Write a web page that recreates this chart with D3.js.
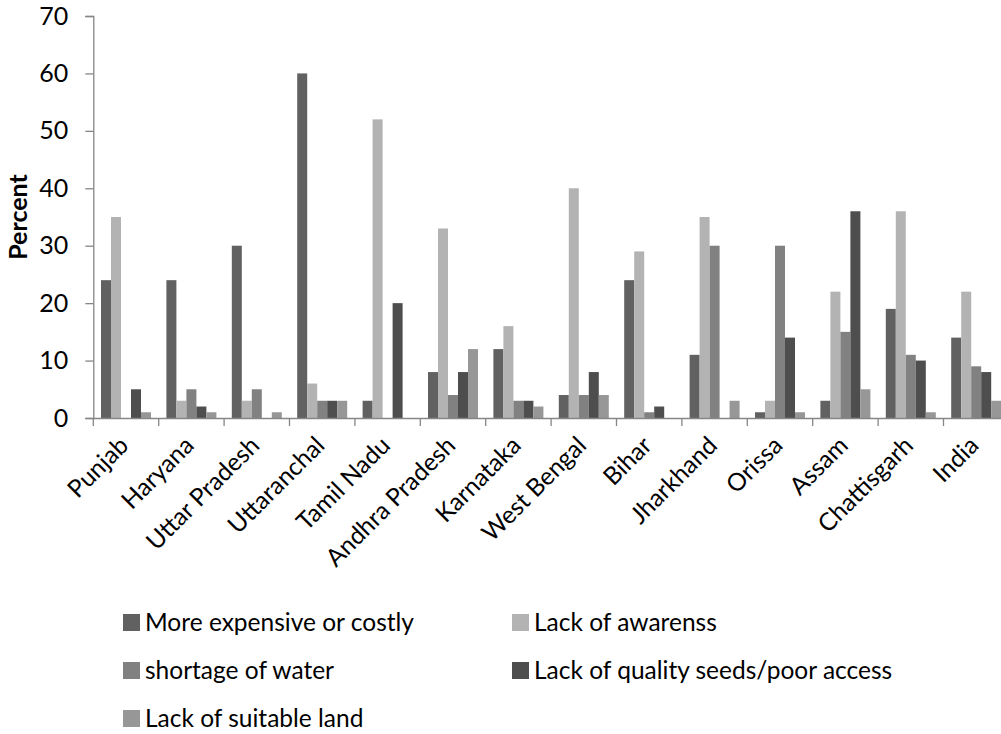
<!DOCTYPE html>
<html><head><meta charset="utf-8">
<script src="https://cdn.jsdelivr.net/npm/d3@7"></script>
<style>body{margin:0;background:#fff}svg{display:block}text{font-family:Lato,"Open Sans",sans-serif;fill:#000}</style>
</head><body><div id="chart"></div>
<script>
const categories = ["Punjab","Haryana","Uttar Pradesh","Uttaranchal","Tamil Nadu","Andhra Pradesh","Karnataka","West Bengal","Bihar","Jharkhand","Orissa","Assam","Chattisgarh","India"];
const seriesNames = ["More expensive or costly","Lack of awarenss","shortage of water","Lack of quality seeds/poor access","Lack of suitable land"];
const expensive = [24,24,30,60,3,8,12,4,24,11,1,3,19,14];
const awareness = [35,3,3,6,52,33,16,40,29,35,3,22,36,22];
const water     = [0,5,5,3,0,4,3,4,1,30,30,15,11,9];
const seeds     = [5,2,0,3,20,8,3,8,2,0,14,36,10,8];
const land      = [1,1,1,3,0,12,2,4,0,3,1,5,1,3];
const yTicks = [0,10,20,30,40,50,60,70];
const colors = ["#616161","#b3b3b3","#818181","#4e4e4e","#979797"];

const series = [expensive, awareness, water, seeds, land];
const W = 1001, H = 734;
const svg = d3.select("#chart").append("svg").attr("width",W).attr("height",H);
const x0 = 93.3, bandW = 65.4;
const x = d3.scaleBand().domain(categories).range([x0, x0 + bandW*categories.length]).paddingInner(0).paddingOuter(0);
const xs = d3.scaleBand().domain(d3.range(5)).range([7.7, bandW-7.7]);
const y = d3.scaleLinear().domain([0,70]).range([418,16]);

// bars
categories.forEach((c,i)=>{
  series.forEach((s,j)=>{
    const v = s[i];
    if (v<=0) return;
    svg.append("rect")
      .attr("x", x(c)+xs(j)).attr("width", xs.bandwidth())
      .attr("y", y(v)).attr("height", y(0)-y(v))
      .attr("fill", colors[j]);
  });
});

// y axis
const yAxis = d3.axisLeft(y).tickValues(yTicks).tickSize(8).tickPadding(8);
const gy = svg.append("g").attr("transform",`translate(${x0},0)`).call(yAxis);
gy.select(".domain").attr("stroke","#868686").attr("stroke-width",1.3);
gy.selectAll(".tick line").attr("stroke","#868686").attr("stroke-width",1.3);
gy.selectAll(".tick text").attr("font-size",25).attr("font-family","Lato, sans-serif").attr("fill","#000").attr("x",-25);

// x axis
const xAxis = d3.axisBottom(x).tickSize(0).tickFormat("");
const gx = svg.append("g").attr("transform",`translate(0,${y(0)})`).call(xAxis);
gx.select(".domain").attr("stroke","#868686").attr("stroke-width",1.3);
// category boundary ticks
const bounds = d3.range(categories.length+1).map(i=> i<categories.length ? x(categories[i]) : x0+bandW*categories.length);
svg.append("g").selectAll("line").data(bounds).join("line")
  .attr("x1",d=>d).attr("x2",d=>d).attr("y1",y(0)).attr("y2",y(0)+8)
  .attr("stroke","#868686").attr("stroke-width",1.3);

// x labels
svg.append("g").selectAll("text").data(categories).join("text")
  .attr("transform", d=>`translate(${x(d)+bandW/2+4},447) rotate(-45)`)
  .attr("text-anchor","end").attr("font-size",24.5).text(d=>d);

// y title
svg.append("text").attr("transform","translate(27,217) rotate(-90)")
  .attr("text-anchor","middle").attr("font-size",25).attr("font-weight","bold").text("Percent");

// legend
const legPos = [[123,622],[512,622],[123,670],[512,670],[123,718]];
seriesNames.forEach((n,j)=>{
  const [lx,ly] = legPos[j];
  svg.append("rect").attr("x",lx).attr("y",ly-8).attr("width",17).attr("height",17).attr("fill",colors[j]);
  svg.append("text").attr("x",lx+22).attr("y",ly).attr("dy","0.35em").attr("font-size",24.5).text(n);
});
</script></body></html>
